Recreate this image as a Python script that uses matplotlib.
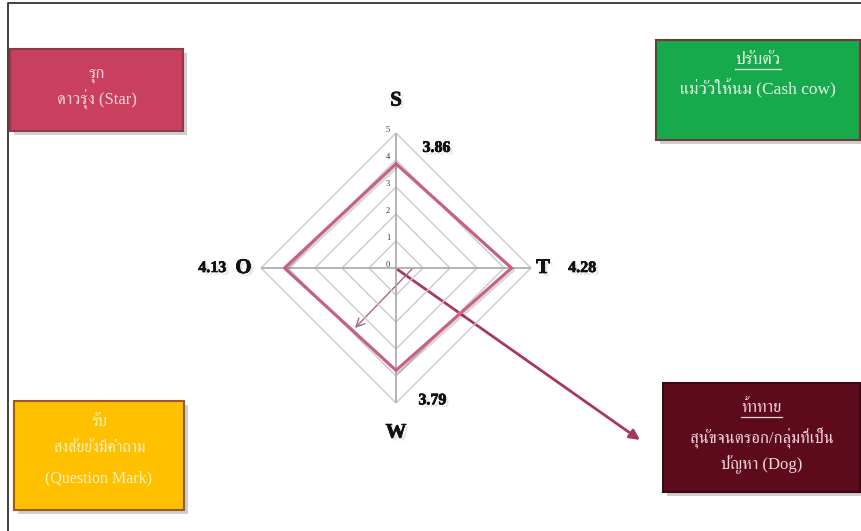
import matplotlib
matplotlib.use("Agg")
import matplotlib.pyplot as plt
import matplotlib.patheffects as pe
from matplotlib import font_manager
from matplotlib.ft2font import FT2Font
from matplotlib.patches import Rectangle
import numpy as np

# radar data
axis_labels = ["S", "T", "W", "O"]
axis_angles = [90, 0, 270, 180]
scores = [3.86, 4.28, 3.79, 4.13]
rings = [1, 2, 3, 4, 5]
max_r = 5

# quadrant boxes (title, other lines)
box_titles = ["รุก", "ปรับตัว", "รับ", "ท้าทาย"]
box_lines = [
    ["ดาวรุ่ง (Star)"],
    ["แม่วัวให้นม (Cash cow)"],
    ["สงสัยยังมีคำถาม", "(Question Mark)"],
    ["สุนัขจนตรอก/กลุ่มที่เป็น", "ปัญหา (Dog)"],
]


def find_thai_font():
    found = []
    for f in font_manager.fontManager.ttflist:
        try:
            if 0x0E01 in FT2Font(f.fname).get_charmap():
                found.append(f.name)
        except Exception:
            pass
    if not found:
        return None
    pref = ["Norasi", "Serif", "Kinnari", "Sarabun", "Garuda", "Loma", "Thai"]
    for p in pref:
        for n in found:
            if p in n:
                return n
    return found[0]


thai = find_thai_font()
serif = ["Liberation Serif"] + ([thai] if thai else []) + ["DejaVu Sans"]

fig = plt.figure(figsize=(8.62, 5.31), dpi=100)
fig.patch.set_facecolor("white")

# overlay axes in pixel units
bg = fig.add_axes([0, 0, 1, 1])
bg.set_xlim(0, 862)
bg.set_ylim(531, 0)
bg.axis("off")

# frame
bg.plot([8, 8, 862], [531, 3, 3], color="#333333", lw=1.3)

# radar axes: centre (396, 268), 27 px per unit
cx, cy, ppu = 396, 268, 27
w = 2 * max_r * ppu
ax = fig.add_axes([(cx - max_r * ppu) / 862, (531 - cy - max_r * ppu) / 531, w / 862, w / 531])
ax.set_xlim(-max_r, max_r)
ax.set_ylim(-max_r, max_r)
ax.axis("off")

th = np.radians(axis_angles + [axis_angles[0]])
for r in rings:
    ax.plot(r * np.cos(th), r * np.sin(th), color="#c9c9c9", lw=1.0, zorder=1)
for a in th[:-1]:
    ax.plot([0, max_r * np.cos(a)], [0, max_r * np.sin(a)], color="#a8a8a8", lw=1.2, zorder=2)
for r in [0] + rings:
    ax.text(-0.3, r + 0.12, str(r), ha="center", va="center", fontsize=6,
            family="Liberation Serif", color="#333333")

vals = np.array(scores + [scores[0]])
shadow = [pe.SimpleLineShadow(offset=(1.5, -1.5), alpha=0.15), pe.Normal()]
ax.plot(vals * np.cos(th), vals * np.sin(th), color="#c9607e", lw=2.2, zorder=3,
        path_effects=shadow)

txt_fx = [pe.withSimplePatchShadow(offset=(2, -2), shadow_rgbFace="#aaaaaa", alpha=0.3),
          pe.withStroke(linewidth=0.5, foreground="#111111")]
label_pos = [(0, 6.2), (5.45, 0), (0, -6.1), (-5.65, 0)]
value_pos = [(1.5, 4.45), (6.9, 0), (1.35, -4.9), (-6.8, 0)]
for lab, (x, y) in zip(axis_labels, label_pos):
    ax.text(x, y, lab, ha="center", va="center", fontsize=15, fontweight="bold",
            family="Liberation Serif", color="#111111", clip_on=False, path_effects=txt_fx)
for v, (x, y) in zip(scores, value_pos):
    ax.text(x, y, f"{v:.2f}", ha="center", va="center", fontsize=11.5, fontweight="bold",
            family="Liberation Serif", color="#111111", clip_on=False, path_effects=txt_fx)

# boxes
box_rects = [(10, 49, 173, 82), (656, 40, 204, 100), (14, 401, 170, 109), (663, 383, 197, 109)]
box_faces = ["#c9405f", "#17aa4c", "#ffc000", "#5c0a1c"]
box_edges = ["#8c3a4c", "#6e3a3a", "#9a5a2a", "#3a0a12"]
box_text_colors = ["#f7d5dd", "#e4f4e4", "#fff1c4", "#f2d8dc"]
box_text_y = [[75, 100], [60, 89], [422, 448, 478], [408, 437, 465]]
box_font = [12, 12.5, 11.5, 12]
underline = [False, True, False, True]

box_shadow = [pe.withSimplePatchShadow(offset=(3, -3), shadow_rgbFace="#777777", alpha=0.35)]
fig.canvas.draw()
renderer = fig.canvas.get_renderer()
for i, (x0, y0, bw, bh) in enumerate(box_rects):
    bg.add_patch(Rectangle((x0, y0), bw, bh, facecolor=box_faces[i], edgecolor=box_edges[i],
                           lw=1.5, path_effects=box_shadow, zorder=2))
    xm = x0 + bw / 2
    lines = [box_titles[i]] + box_lines[i]
    for j, (s, y) in enumerate(zip(lines, box_text_y[i])):
        t = bg.text(xm, y, s, ha="center", va="center", fontsize=box_font[i], family=serif,
                    color=box_text_colors[i], zorder=3)
        if j == 0 and underline[i]:
            bb = t.get_window_extent(renderer)
            half = bb.width / 2
            bg.plot([xm - half, xm + half], [y + 9, y + 9], color=box_text_colors[i],
                    lw=0.9, zorder=3)

# arrows
bg.annotate("", xy=(640, 440), xytext=(0.05, -0.05), textcoords=ax.transData,
            arrowprops=dict(arrowstyle="-|>,head_width=0.3,head_length=0.6",
                            color="#a8385a", lw=2.0, shrinkA=0, shrinkB=0), zorder=4)
bg.annotate("", xy=(355, 328), xytext=(412, 269),
            arrowprops=dict(arrowstyle="->,head_width=0.3,head_length=0.6",
                            color="#a06a84", lw=1.0, shrinkA=0, shrinkB=0), zorder=4)

fig.savefig("out.png", dpi=100)
